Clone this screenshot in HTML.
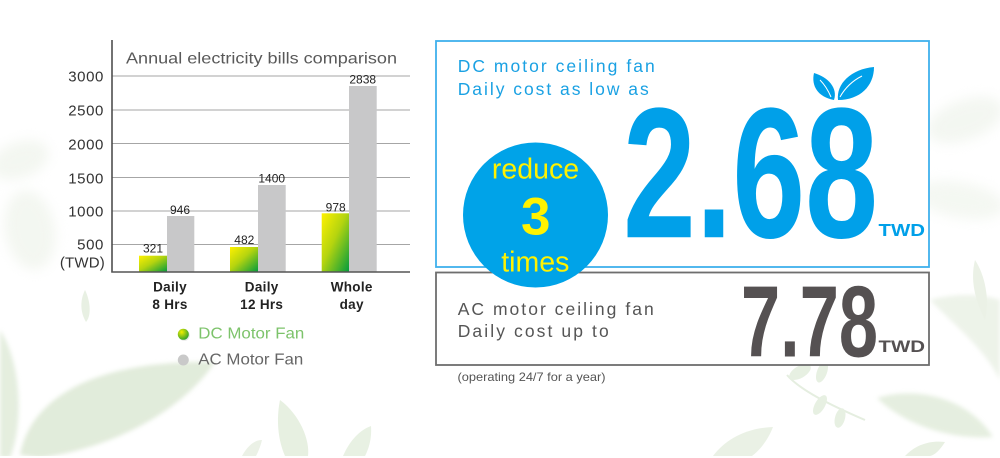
<!DOCTYPE html>
<html>
<head>
<meta charset="utf-8">
<style>
  html,body{margin:0;padding:0;background:#fff;}
  body{width:1000px;height:458px;overflow:hidden;}
  svg{display:block;}
  text{font-family:"Liberation Sans", Arial, sans-serif;}
</style>
</head>
<body>
<svg width="1000" height="458" viewBox="0 0 1000 458" xmlns="http://www.w3.org/2000/svg">
  <defs>
    <linearGradient id="dc" x1="0" y1="0" x2="1" y2="1">
      <stop offset="0" stop-color="#fff100"/>
      <stop offset="0.45" stop-color="#b5d40f"/>
      <stop offset="1" stop-color="#009a3e"/>
    </linearGradient>
    <radialGradient id="dot" cx="0.35" cy="0.3" r="0.8">
      <stop offset="0" stop-color="#f2ee00"/>
      <stop offset="1" stop-color="#1f9a2e"/>
    </radialGradient>
    <filter id="blur" x="-20%" y="-20%" width="140%" height="140%">
      <feGaussianBlur stdDeviation="2"/>
    </filter>
    <filter id="blur6" x="-30%" y="-30%" width="160%" height="160%">
      <feGaussianBlur stdDeviation="6"/>
    </filter>
  </defs>

  <!-- faint background leaves -->
  <g opacity="0.55">
    <path d="M20,455 C30,400 90,360 215,362 C190,400 130,445 40,458 Z" fill="#c9dcbd" filter="url(#blur)"/>
    <path d="M0,330 C20,360 25,420 10,458 L0,458 Z" fill="#cfe0c4" filter="url(#blur)"/>
    <path d="M85,290 C90,300 92,315 86,322 C80,312 80,300 85,290 Z" fill="#d6e4cc"/>
    <path d="M280,400 C300,415 310,440 308,456 L285,456 C278,440 276,420 280,400 Z" fill="#d3e3c8"/>
    <path d="M343,456 C350,440 360,430 371,426 C372,440 368,450 365,456 Z" fill="#d6e5cc"/>
    <path d="M242,456 C248,445 255,440 262,440 C260,448 258,452 256,456 Z" fill="#dae6d2"/>
    <path d="M713,456 C725,440 745,428 773,427 C768,440 760,450 752,456 Z" fill="#d9e6d0"/>
    <path d="M787,375 C800,390 830,405 865,420" stroke="#cfe0c6" stroke-width="2" fill="none"/>
    <ellipse cx="800" cy="372" rx="12" ry="6" transform="rotate(-30 800 372)" fill="#d3e3ca"/>
    <ellipse cx="822" cy="372" rx="11" ry="5" transform="rotate(-70 822 372)" fill="#d3e3ca"/>
    <ellipse cx="820" cy="405" rx="11" ry="5" transform="rotate(-60 820 405)" fill="#d3e3ca"/>
    <ellipse cx="840" cy="418" rx="10" ry="5" transform="rotate(-75 840 418)" fill="#d3e3ca"/>
    <path d="M877,398 C920,385 970,400 993,437 C950,440 905,425 877,398 Z" fill="#d0e1c6" filter="url(#blur)"/>
    <path d="M905,456 C915,445 930,440 945,442 C940,450 935,455 930,456 Z" fill="#d5e3cb"/>
    <path d="M930,300 C960,330 985,350 1000,380 L1000,300 C985,295 960,292 930,300 Z" fill="#dfe9d8" filter="url(#blur)"/>
    <path d="M975,260 C985,275 990,300 985,320 C975,300 970,280 975,260 Z" fill="#dae6d2"/>
    <ellipse cx="965" cy="120" rx="40" ry="20" transform="rotate(-20 965 120)" fill="#eaf0e6" filter="url(#blur6)"/>
    <ellipse cx="960" cy="200" rx="45" ry="18" transform="rotate(10 960 200)" fill="#ecf2e8" filter="url(#blur6)"/>
    <ellipse cx="20" cy="160" rx="30" ry="18" transform="rotate(-20 20 160)" fill="#eaf0e5" filter="url(#blur6)"/>
    <ellipse cx="30" cy="230" rx="25" ry="40" transform="rotate(-10 30 230)" fill="#eaf0e5" filter="url(#blur6)"/>
  </g>

  <!-- CHART -->
  <text x="126" y="63.3" font-size="16" fill="#595959" textLength="271" lengthAdjust="spacingAndGlyphs">Annual electricity bills comparison</text>

  <!-- gridlines -->
  <g stroke="#a6a6a6" stroke-width="1">
    <line x1="112" y1="76" x2="410" y2="76"/>
    <line x1="112" y1="110" x2="410" y2="110"/>
    <line x1="112" y1="143.5" x2="410" y2="143.5"/>
    <line x1="112" y1="177.5" x2="410" y2="177.5"/>
    <line x1="112" y1="211" x2="410" y2="211"/>
    <line x1="112" y1="244.5" x2="410" y2="244.5"/>
  </g>

  <!-- y labels -->
  <g font-size="15" fill="#333" text-anchor="end" letter-spacing="0.6">
    <text x="104" y="81.7">3000</text>
    <text x="104" y="115.7">2500</text>
    <text x="104" y="149.3">2000</text>
    <text x="104" y="183.3">1500</text>
    <text x="104" y="216.7">1000</text>
    <text x="104" y="249.3">500</text>
    <text x="105" y="267.5" letter-spacing="0.2">(TWD)</text>
  </g>

  <!-- bars -->
  <rect x="139" y="255.7" width="28.3" height="16.3" fill="url(#dc)"/>
  <rect x="167" y="216" width="27.3" height="56" fill="#c8c8c9"/>
  <rect x="230" y="247" width="28.3" height="25" fill="url(#dc)"/>
  <rect x="258" y="185" width="27.7" height="87" fill="#c8c8c9"/>
  <rect x="321.7" y="213.3" width="27.6" height="58.7" fill="url(#dc)"/>
  <rect x="349" y="86" width="27.7" height="186" fill="#c8c8c9"/>

  <!-- data labels -->
  <g font-size="12" fill="#222" text-anchor="middle">
    <text x="153" y="252.5">321</text>
    <text x="180" y="214.2">946</text>
    <text x="244.3" y="244">482</text>
    <text x="271.7" y="182.5">1400</text>
    <text x="335.7" y="211.5">978</text>
    <text x="362.7" y="83.5">2838</text>
  </g>

  <!-- axes -->
  <line x1="112" y1="40" x2="112" y2="272.5" stroke="#444" stroke-width="1.5"/>
  <line x1="111.3" y1="272" x2="410" y2="272" stroke="#555" stroke-width="1.5"/>

  <!-- x labels -->
  <g font-size="13.5" font-weight="bold" fill="#222" text-anchor="middle" letter-spacing="0.3">
    <text x="170" y="291.7">Daily</text>
    <text x="170" y="309">8 Hrs</text>
    <text x="261.7" y="291.7">Daily</text>
    <text x="261.7" y="309">12 Hrs</text>
    <text x="351.7" y="291.7">Whole</text>
    <text x="351.7" y="309">day</text>
  </g>

  <!-- legend -->
  <circle cx="184.3" cy="335.3" r="5.5" fill="#bbb" opacity="0.35"/>
  <circle cx="183.3" cy="334.3" r="5.5" fill="url(#dot)"/>
  <text x="198.3" y="338.3" font-size="16" fill="#7dc36b" textLength="106" lengthAdjust="spacingAndGlyphs">DC Motor Fan</text>
  <circle cx="183.3" cy="360" r="5.5" fill="#c9c9c9"/>
  <text x="198.3" y="364.3" font-size="16" fill="#666" textLength="105" lengthAdjust="spacingAndGlyphs">AC Motor Fan</text>

  <!-- RIGHT PANEL -->
  <rect x="436" y="41" width="493" height="226" fill="#fff" stroke="#3fb0ec" stroke-width="1.8"/>
  <rect x="436" y="272.5" width="493" height="92.5" fill="#fff" stroke="#6e6e6e" stroke-width="1.8"/>

  <text x="457.7" y="72.2" font-size="17.5" fill="#1aa1e3" textLength="197" lengthAdjust="spacing">DC motor ceiling fan</text>
  <text x="457.7" y="95.2" font-size="17.5" fill="#1aa1e3" textLength="191" lengthAdjust="spacing">Daily cost as low as</text>

  <text x="623" y="237.2" font-size="186" font-weight="bold" fill="#00a0e9" textLength="255" lengthAdjust="spacingAndGlyphs">2.68</text>
  <text x="878.5" y="236.1" font-size="17.5" font-weight="bold" fill="#00a0e9" textLength="46.5" lengthAdjust="spacingAndGlyphs">TWD</text>

  <!-- leaf icon -->
  <g fill="#00a0e9">
    <path d="M834,100 C818,97 811,86 814,73 C828,77 838,88 834,100 Z"/>
    <path d="M838,100 C836,84 851,69 874,67 C874,86 860,100 838,100 Z"/>
  </g>
  <g stroke="#fff" stroke-width="1" fill="none">
    <path d="M831,97 C828,90 824,84 820,80"/>
    <path d="M840,97 C845,88 852,81 862,76"/>
  </g>

  <text x="457.7" y="315" font-size="17.5" fill="#555" textLength="196" lengthAdjust="spacing">AC motor ceiling fan</text>
  <text x="457.7" y="337" font-size="17.5" fill="#555" textLength="151" lengthAdjust="spacing">Daily cost up to</text>

  <text x="741" y="356.3" font-size="101.5" font-weight="bold" fill="#555152" textLength="137" lengthAdjust="spacingAndGlyphs">7.78</text>
  <text x="878.5" y="351.9" font-size="17" font-weight="bold" fill="#555152" textLength="46.5" lengthAdjust="spacingAndGlyphs">TWD</text>

  <text x="457.5" y="381" font-size="12" fill="#555" textLength="148" lengthAdjust="spacingAndGlyphs">(operating 24/7 for a year)</text>

  <!-- circle -->
  <circle cx="535.5" cy="215" r="72.5" fill="#00a3e8"/>
  <g fill="#fff200" text-anchor="middle">
    <text x="535.5" y="178.7" font-size="28.5">reduce</text>
    <text x="535.8" y="234.5" font-size="53" font-weight="bold">3</text>
    <text x="535.3" y="271.6" font-size="28.5">times</text>
  </g>

  <!-- bottom white strip -->
  <rect x="0" y="456" width="1000" height="2" fill="#fff"/>
</svg>
</body>
</html>
